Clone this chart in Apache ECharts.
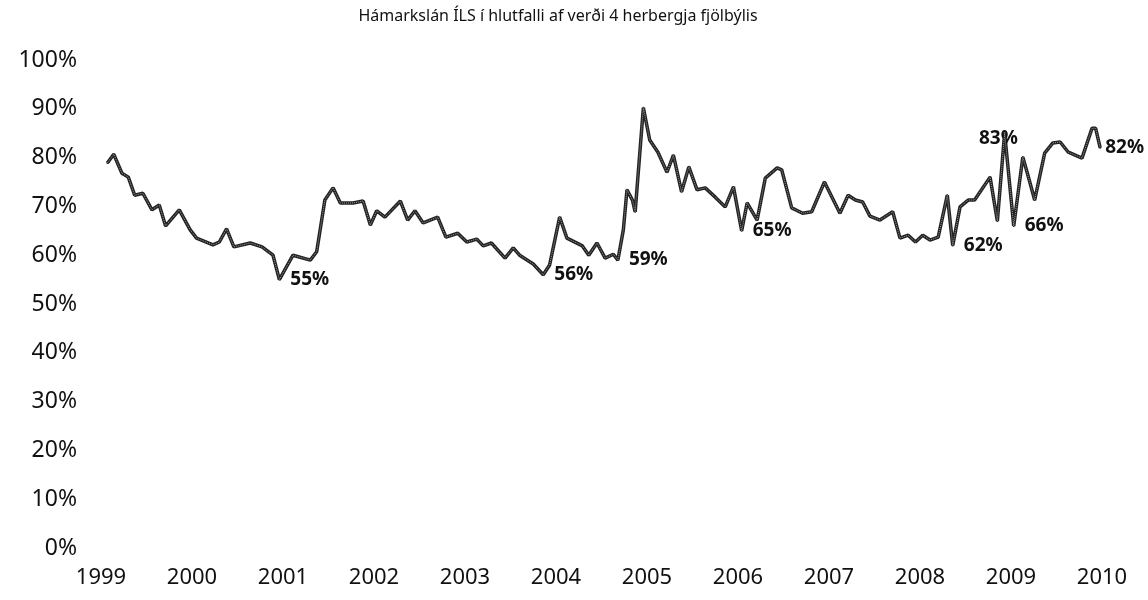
<!DOCTYPE html>
<html>
	<head>
		<meta charset="utf-8" />
		<title>Hámarkslán ÍLS</title>
		<script src="https://cdn.jsdelivr.net/npm/echarts@6/dist/echarts.min.js"></script>
		<style>
			html, body { margin: 0; padding: 0; background: #fff; }
			#main { width: 1148px; height: 600px; }
		</style>
	</head>
	<body>
		<div id="main"></div>
		<script type="text/javascript">
			// dagsetning (ár sem tugabrot) og hlutfall í %
			var dates = [
				1999.07, 1999.14, 1999.23, 1999.30, 1999.37, 1999.46, 1999.56, 1999.64, 1999.71, 1999.86,
				1999.98, 2000.05, 2000.23, 2000.30, 2000.38, 2000.46, 2000.64, 2000.77, 2000.89, 2000.96,
				2001.11, 2001.30, 2001.37, 2001.46, 2001.55, 2001.63, 2001.77, 2001.88, 2001.96, 2002.03,
				2002.12, 2002.29, 2002.37, 2002.45, 2002.54, 2002.70, 2002.79, 2002.92, 2003.02, 2003.13,
				2003.20, 2003.29, 2003.44, 2003.53, 2003.60, 2003.75, 2003.86, 2003.93, 2004.04, 2004.12,
				2004.29, 2004.36, 2004.45, 2004.54, 2004.63, 2004.68, 2004.74, 2004.78, 2004.84, 2004.87,
				2004.96, 2005.03, 2005.12, 2005.22, 2005.29, 2005.38, 2005.46, 2005.55, 2005.64, 2005.75,
				2005.86, 2005.95, 2006.04, 2006.10, 2006.21, 2006.30, 2006.43, 2006.48, 2006.59, 2006.71,
				2006.81, 2006.95, 2007.12, 2007.21, 2007.29, 2007.37, 2007.45, 2007.56, 2007.70, 2007.78,
				2007.87, 2007.95, 2008.03, 2008.11, 2008.20, 2008.30, 2008.36, 2008.44, 2008.53, 2008.60,
				2008.77, 2008.85, 2008.93, 2009.03, 2009.13, 2009.18, 2009.26, 2009.37, 2009.46, 2009.54,
				2009.63, 2009.78, 2009.89, 2009.93, 2009.98
			];
			var ratio = [
				78.9, 80.7, 76.8, 76.0, 72.3, 72.7, 69.3, 70.3, 66.0, 69.3,
				65.2, 63.5, 62.1, 62.7, 65.4, 61.7, 62.5, 61.7, 60.0, 55.0,
				60.0, 59.0, 60.7, 71.3, 73.8, 70.7, 70.7, 71.1, 66.2, 69.1,
				67.8, 71.1, 67.2, 69.1, 66.6, 67.8, 63.7, 64.5, 62.7, 63.3,
				61.9, 62.5, 59.4, 61.5, 60.0, 58.2, 56.0, 58.0, 67.8, 63.5,
				61.9, 60.0, 62.5, 59.4, 60.2, 59.0, 65.2, 73.4, 71.3, 68.9,
				90.2, 83.6, 81.1, 77.0, 80.5, 73.0, 78.1, 73.4, 73.8, 71.9,
				69.9, 74.0, 65.0, 70.7, 67.2, 75.8, 77.9, 77.5, 69.7, 68.6,
				68.9, 75.0, 68.6, 72.3, 71.3, 70.9, 68.0, 67.2, 68.9, 63.5,
				64.1, 62.7, 64.1, 63.1, 63.7, 72.3, 62.0, 69.9, 71.3, 71.3,
				76.0, 67.0, 85.0, 66.0, 80.1, 76.8, 71.3, 80.9, 83.0, 83.2,
				81.1, 79.9, 86.0, 86.0, 82.0
			];
			// punktar sem fá gildismerki
			var labelDates = [2000.96, 2003.86, 2004.68, 2006.04, 2008.36, 2009.03, 2009.46, 2009.98];
			var years = [1999, 2000, 2001, 2002, 2003, 2004, 2005, 2006, 2007, 2008, 2009, 2010];

			var seriesData = [];
			for (var i = 0; i < dates.length; i++) {
				var item = { value: [dates[i], ratio[i]] };
				if (labelDates.indexOf(dates[i]) >= 0) {
					item.label = { show: true, position: 'right' };
					// 83% merkið er fært handvirkt til vinstri upp við toppinn
					if (dates[i] === 2009.46) {
						item.label = { show: true, position: 'left', offset: [-24, -4] };
					}
					if (dates[i] === 2009.98) {
						item.label = { show: true, position: 'right', offset: [-6, 0] };
					}
				}
				seriesData.push(item);
			}

			var myChart = echarts.init(document.getElementById('main'));
			var option = {
				backgroundColor: '#fff',
				animation: false,
				title: {
					text: 'Hámarkslán ÍLS í hlutfalli af verði 4 herbergja fjölbýlis',
					left: 553,
					textAlign: 'center',
					top: 3,
					textStyle: { fontFamily: 'Noto Sans', fontSize: 16, fontWeight: 'normal', color: '#111' }
				},
				grid: { left: 101, right: 46, top: 60, bottom: 52 },
				xAxis: {
					type: 'value',
					min: years[0],
					max: years[years.length - 1],
					interval: 1,
					axisLine: { show: false },
					axisTick: { show: false },
					splitLine: { show: false },
					axisLabel: {
						margin: 19,
						fontFamily: 'Noto Sans',
						fontSize: 22,
						color: '#111',
						formatter: function (v) { return String(Math.round(v)); }
					}
				},
				yAxis: {
					type: 'value',
					min: 0,
					max: 100,
					interval: 10,
					axisLine: { show: false },
					axisTick: { show: false },
					splitLine: { show: false },
					axisLabel: {
						margin: 24,
						fontFamily: 'Noto Sans',
						fontSize: 23,
						color: '#111',
						formatter: '{value}%'
					}
				},
				series: [
					{
						type: 'line',
						data: seriesData,
						symbol: 'circle',
						symbolSize: 2,
						showSymbol: true,
						itemStyle: { color: '#222' },
						lineStyle: { color: '#222', width: 3.5 },
						label: {
							show: false,
							distance: 10,
							fontFamily: 'Noto Sans',
							fontSize: 19,
							fontWeight: 'bold',
							color: '#111',
							formatter: function (p) { return Math.round(p.value[1]) + '%'; }
						},
						z: 2
					},
					{
						// ljós innri lína sem líkir eftir tvöföldu strikinu
						type: 'line',
						data: seriesData.map(function (d) { return d.value; }),
						symbol: 'none',
						silent: true,
						lineStyle: { color: '#9a9a9a', width: 1, type: 'dotted' },
						z: 3
					}
				]
			};
			myChart.setOption(option);
		</script>
	</body>
</html>
